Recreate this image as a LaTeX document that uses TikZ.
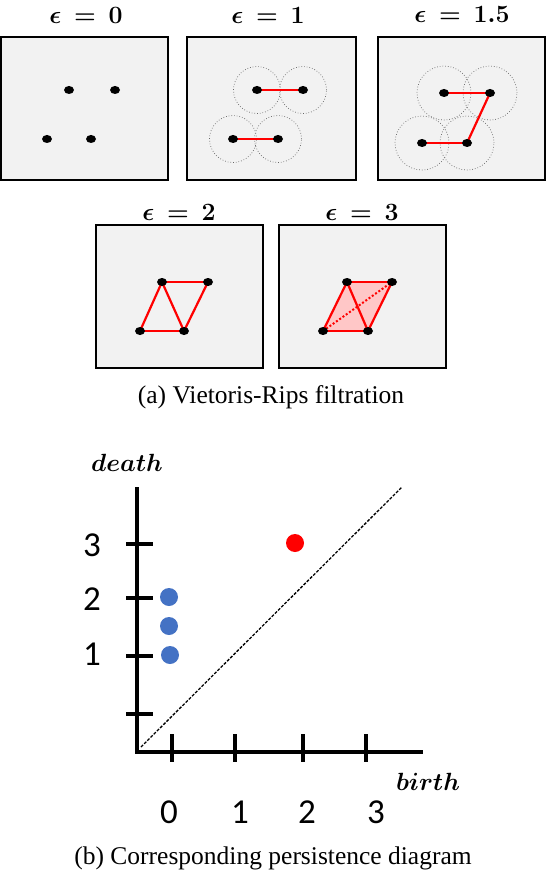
\documentclass[tikz,border=0pt]{standalone}
\usepackage{fontspec}
\setmainfont{Liberation Serif}
\newfontfamily\calib{Carlito}
\usetikzlibrary{shapes.geometric}
\definecolor{panelbg}{HTML}{F2F2F2}
\definecolor{ptblue}{HTML}{4472C4}
\tikzset{
  panel/.style={draw=black, line width=1.2pt, fill=panelbg},
  dotpt/.style={ellipse, fill=black, minimum width=10pt, minimum height=8pt, inner sep=0pt},
  ring/.style={draw=black!60, dotted, line width=0.7pt},
  edge/.style={draw=red, line width=2.2pt},
  ttl/.style={font=\fontsize{23}{27}\selectfont\boldmath, inner sep=0pt},
  capt/.style={font=\fontsize{25.5}{30}\selectfont, inner sep=0pt},
  axis/.style={line width=4pt},
  tick/.style={line width=4.5pt},
  num/.style={font=\calib\fontsize{35}{40}\selectfont, inner sep=0pt},
  axlab/.style={font=\fontsize{29}{33}\selectfont\boldmath, inner sep=0pt},
  blob/.style={circle, inner sep=0pt, minimum size=18pt},
}
\begin{document}
\begin{tikzpicture}[x=1pt,y=-1pt]
\useasboundingbox (0,0) rectangle (546,874);
% ---------- panel 1 ----------
\node[ttl] (t1) at (86,15) {$\epsilon\,=\,0$};
\draw[panel] (1,37) rectangle (168,180);
\node[dotpt] (a1) at (69,90) {};
\node[dotpt] (b1) at (115,90) {};
\node[dotpt] (c1) at (47,139) {};
\node[dotpt] (d1) at (91,139) {};
% ---------- panel 2 ----------
\node[ttl] (t2) at (268,15) {$\epsilon\,=\,1$};
\draw[panel] (187,37) rectangle (356,180);
\coordinate (a2) at (257,90);
\coordinate (b2) at (303,90);
\coordinate (c2) at (233,139);
\coordinate (d2) at (278,139);
\foreach \p in {a2,b2,c2,d2} \draw[ring] (\p) circle[radius=23.5pt];
\draw[edge] (a2) -- (b2);
\draw[edge] (c2) -- (d2);
\foreach \p in {a2,b2,c2,d2} \node[dotpt] at (\p) {};
% ---------- panel 3 ----------
\node[ttl] (t3) at (462,14) {$\epsilon\,=\,1.5$};
\draw[panel] (378,37) rectangle (545,180);
\coordinate (a3) at (444,93);
\coordinate (b3) at (490,93);
\coordinate (c3) at (422,143);
\coordinate (d3) at (467,143);
\foreach \p in {a3,b3,c3,d3} \draw[ring] (\p) circle[radius=27pt];
\draw[edge] (a3) -- (b3);
\draw[edge] (c3) -- (d3);
\draw[edge] (b3) -- (d3);
\foreach \p in {a3,b3,c3,d3} \node[dotpt] at (\p) {};
% ---------- panel 4 ----------
\node[ttl] (t4) at (179,212) {$\epsilon\,=\,2$};
\draw[panel] (96,225) rectangle (263,368);
\coordinate (a4) at (162,282);
\coordinate (b4) at (208,282);
\coordinate (c4) at (140,331);
\coordinate (d4) at (184,331);
\draw[edge] (a4) -- (b4);
\draw[edge] (c4) -- (d4);
\draw[edge] (c4) -- (a4);
\draw[edge] (a4) -- (d4);
\draw[edge] (b4) -- (d4);
\foreach \p in {a4,b4,c4,d4} \node[dotpt] at (\p) {};
% ---------- panel 5 ----------
\node[ttl] (t5) at (362,212) {$\epsilon\,=\,3$};
\draw[panel] (279,225) rectangle (446,368);
\coordinate (a5) at (347,282);
\coordinate (b5) at (392,282);
\coordinate (c5) at (323,331);
\coordinate (d5) at (368,331);
\fill[red!22] (a5) -- (b5) -- (d5) -- (c5) -- cycle;
\draw[edge] (a5) -- (b5);
\draw[edge] (c5) -- (d5);
\draw[edge] (c5) -- (a5);
\draw[edge] (a5) -- (d5);
\draw[edge] (b5) -- (d5);
\draw[draw=red, line width=2pt, dotted] (c5) -- (b5);
\foreach \p in {a5,b5,c5,d5} \node[dotpt] at (\p) {};
\node[capt] (capa) at (271,397) {(a) Vietoris-Rips filtration};
% ---------- persistence diagram ----------
\coordinate (o) at (137,752);
\coordinate (ytop) at (137,487);
\coordinate (xend) at (423,752);
\draw[axis] (ytop) -- (o) -- (xend);
\foreach \yy in {544,598,656,714} \draw[tick] (126,\yy) -- (153,\yy);
\foreach \xx in {172,235,303,366} \draw[tick] (\xx,734) -- (\xx,762);
\coordinate (dg0) at (141,747);
\coordinate (dg1) at (402,487);
\draw[line width=1.3pt, dash pattern=on 3pt off 1.5pt] (dg0) -- (dg1);
\node[blob, fill=red] (r1) at (295,543) {};
\node[blob, fill=ptblue] (bl1) at (169,597) {};
\node[blob, fill=ptblue] (bl2) at (169,626) {};
\node[blob, fill=ptblue] (bl3) at (170,655) {};
\node[axlab] (death) at (127,463) {$death$};
\node[axlab] (birth) at (428,782) {$birth$};
\node[num] (y3) at (92,545) {3};
\node[num] (y2) at (92,599) {2};
\node[num] (y1) at (92,654) {1};
\node[num] (x0) at (169,812) {0};
\node[num] (x1) at (240,812) {1};
\node[num] (x2) at (307,812) {2};
\node[num] (x3) at (376,812) {3};
\node[capt] (capb) at (273,858) {(b) Corresponding persistence diagram};
\end{tikzpicture}
\end{document}
